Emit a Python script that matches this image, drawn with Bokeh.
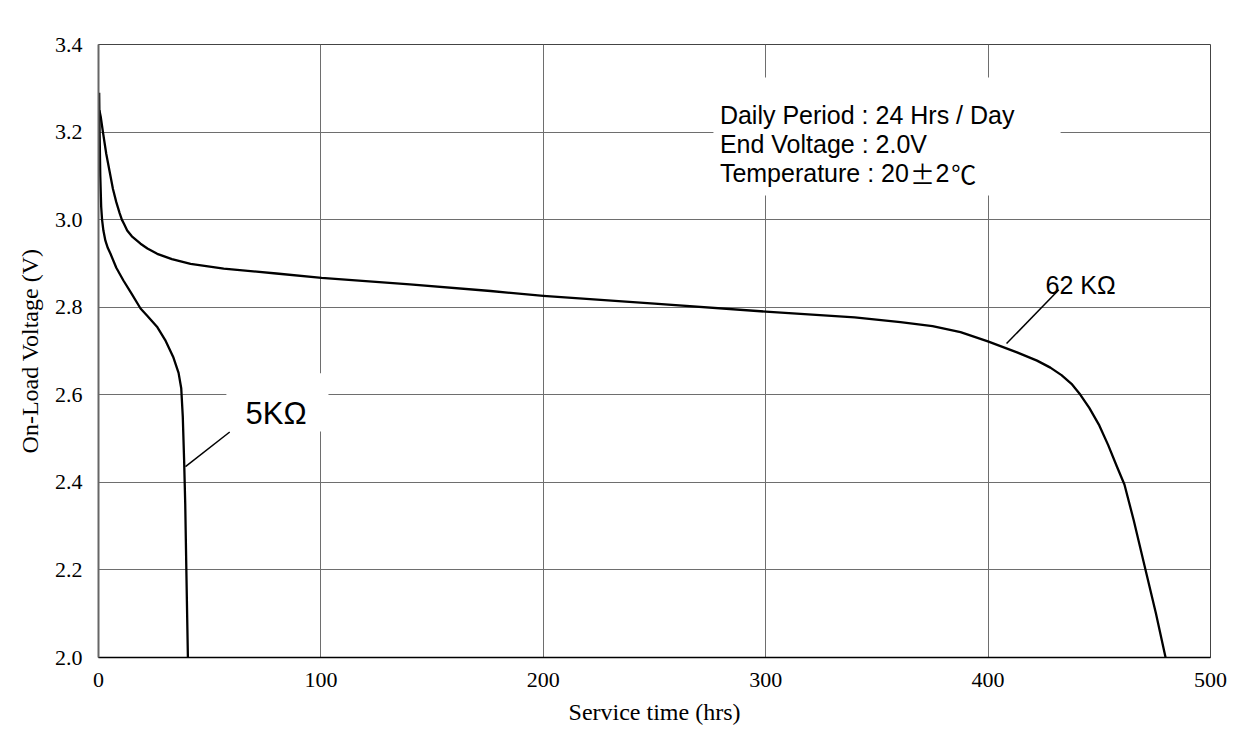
from bokeh.plotting import figure
from bokeh.models import Range1d, FixedTicker, NumeralTickFormatter
from bokeh.core.properties import value
from bokeh.embed import file_html
from bokeh.resources import INLINE

# ---- data ----
hours_5k = [0.3, 0.5, 0.8, 1.2, 1.6, 2.2, 3.1, 4.2, 5.4, 8.0, 11.2, 15.0, 18.9, 22.0, 26.5,
            30.0, 33.7, 36.0, 37.2, 37.9, 38.5, 39.0, 39.5, 40.2]
volts_5k = [3.29, 3.20, 3.10, 3.03, 3.00, 2.975, 2.952, 2.935, 2.922, 2.89, 2.861, 2.83, 2.797,
            2.78, 2.754, 2.725, 2.685, 2.65, 2.615, 2.55, 2.45, 2.35, 2.20, 2.00]

hours_62k = [0.4, 1.0, 2.0, 3.5, 5.0, 6.5, 8.0, 9.5, 10.5, 11.5, 12.9, 15.0, 18.9, 22.0, 26.4,
             33.0, 41.4, 56.3, 80.0, 100.3, 140.0, 176.3, 200.0, 250.0, 300.0, 340.0, 360.6,
             375.0, 387.6, 399.9, 413.0, 422.0, 428.0, 433.0, 437.5, 441.5, 445.5, 450.0,
             454.0, 458.0, 461.3, 465.5, 470.8, 475.5, 479.8]
volts_62k = [3.25, 3.235, 3.20, 3.15, 3.11, 3.07, 3.04, 3.015, 3.0, 2.99, 2.975, 2.962, 2.945,
             2.934, 2.922, 2.91, 2.899, 2.888, 2.877, 2.867, 2.852, 2.837, 2.826, 2.808, 2.79,
             2.777, 2.766, 2.757, 2.743, 2.722, 2.697, 2.678, 2.662, 2.645, 2.625, 2.60,
             2.57, 2.53, 2.485, 2.435, 2.395, 2.313, 2.20, 2.10, 2.00]

x_ticks = [0, 100, 200, 300, 400, 500]
y_ticks = [2.0, 2.2, 2.4, 2.6, 2.8, 3.0, 3.2, 3.4]

info_lines = ["Daily Period : 24 Hrs / Day", "End Voltage : 2.0V", "Temperature : 20"]
info_x = 279.4
info_y = [3.238, 3.173, 3.107]
# pieces of the temperature line drawn with CJK-style glyphs
temp_pm = "±"
temp_pm_x = 370.5
temp_two = "2"
temp_two_x = 376.3
temp_deg = "℃"
temp_deg_x = 389.0
info_box = dict(left=276.5, right=432.6, bottom=3.055, top=3.3246)

label_5k = "5KΩ"
label_5k_pos = (66.1, 2.557)
box_5k = dict(left=57.5, right=103.4, bottom=2.516, top=2.649)
leader_5k = (59.0, 2.515, 39.1, 2.436)

label_62k = "62 KΩ"
label_62k_pos = (425.8, 2.850)
leader_62k = (431.8, 2.840, 408.3, 2.717)

# ---- figure ----
p = figure(width=1242, height=747, output_backend="svg", toolbar_location=None,
           x_range=Range1d(0, 500), y_range=Range1d(2.0, 3.4),
           min_border_left=98, min_border_top=44, min_border_right=32, min_border_bottom=90)
p.background_fill_color = "white"
p.border_fill_color = "white"
p.outline_line_color = "#444444"
p.outline_line_width = 1

serif = "Liberation Serif"
sans = "Liberation Sans"
cjk = "Noto Sans CJK SC"

p.xaxis.ticker = FixedTicker(ticks=x_ticks)
p.yaxis.ticker = FixedTicker(ticks=y_ticks)
p.yaxis.formatter = NumeralTickFormatter(format="0.0")
for ax in (p.xaxis, p.yaxis):
    ax.major_tick_out = 0
    ax.major_tick_in = 0
    ax.minor_tick_out = 0
    ax.minor_tick_in = 0
    ax.major_label_text_font = serif
    ax.major_label_text_font_size = "22px"
    ax.major_label_text_color = "black"
    ax.axis_label_text_font = serif
    ax.axis_label_text_font_size = "24px"
    ax.axis_label_text_font_style = "normal"
    ax.axis_label_text_color = "black"
p.xaxis.axis_label = "Service time (hrs)"
p.yaxis.axis_label = "On-Load Voltage (V)"
p.xaxis.major_label_standoff = 15
p.yaxis.major_label_standoff = 16
p.xaxis.axis_label_standoff = 9
p.yaxis.axis_label_standoff = 9
p.xaxis.axis_line_color = "black"
p.xaxis.axis_line_width = 1.5
p.yaxis.axis_line_color = "#666666"
p.yaxis.axis_line_width = 2

p.grid.grid_line_color = "#6e6e6e"
p.grid.grid_line_width = 1

# white boxes behind text (cover grid lines)
p.quad(left=[info_box["left"], box_5k["left"]], right=[info_box["right"], box_5k["right"]],
       bottom=[info_box["bottom"], box_5k["bottom"]], top=[info_box["top"], box_5k["top"]],
       fill_color="white", line_color=None)

# curves
p.line(hours_5k, volts_5k, line_color="black", line_width=2.3, line_join="round")
p.line(hours_62k, volts_62k, line_color="black", line_width=2.3, line_join="round")

# leader lines
p.segment(x0=[leader_5k[0], leader_62k[0]], y0=[leader_5k[1], leader_62k[1]],
          x1=[leader_5k[2], leader_62k[2]], y1=[leader_5k[3], leader_62k[3]],
          line_color="black", line_width=1.5)

# annotations
p.text(x=[info_x] * 3, y=info_y, text=info_lines, text_font=value(sans),
       text_font_size="25px", text_color="black", text_align="left",
       text_baseline="alphabetic")
p.text(x=[temp_pm_x, temp_deg_x], y=[info_y[2]] * 2, text=[temp_pm, temp_deg],
       text_font=value(cjk), text_font_size="25px", text_color="black",
       text_align="center", text_baseline="alphabetic")
p.text(x=[temp_two_x], y=[info_y[2]], text=[temp_two], text_font=value(sans),
       text_font_size="25px", text_color="black", text_align="left",
       text_baseline="alphabetic")
p.text(x=[label_5k_pos[0]], y=[label_5k_pos[1]], text=[label_5k], text_font=value(sans),
       text_font_size="31px", text_color="black", text_align="left",
       text_baseline="alphabetic")
p.text(x=[label_62k_pos[0]], y=[label_62k_pos[1]], text=[label_62k], text_font=value(sans),
       text_font_size="25px", text_color="black", text_align="left",
       text_baseline="alphabetic")

open("out.html", "w").write(file_html(p, INLINE))
